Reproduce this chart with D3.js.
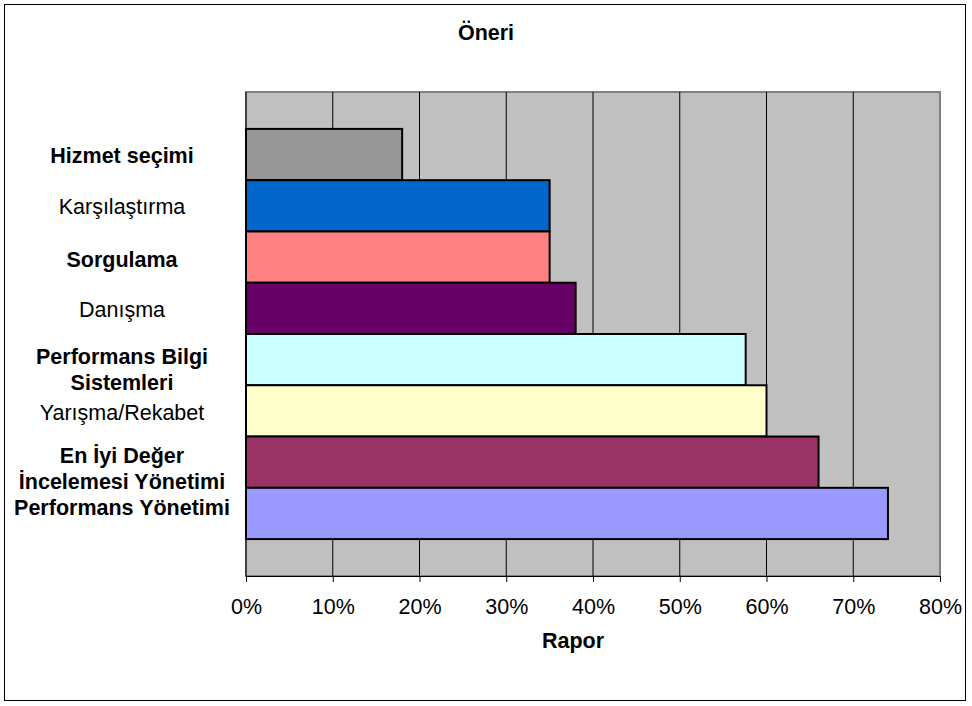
<!DOCTYPE html>
<html><head><meta charset="utf-8">
<script src="https://cdn.jsdelivr.net/npm/d3@7"></script>
<style>body{margin:0;background:#fff} text{font-family:"Liberation Sans",Arial,sans-serif;fill:#000}</style>
</head><body>
<svg id="c" width="972" height="706"></svg>
<script>
const categories = ["Hizmet seçimi","Karşılaştırma","Sorgulama","Danışma","Performans Bilgi Sistemleri","Yarışma/Rekabet","En İyi Değer İncelemesi Yönetimi","Performans Yönetimi"];
const values = [18, 35, 35, 38, 57.6, 60, 66, 74];
const colors = ["#969696","#0066CC","#FF8080","#660066","#CCFFFF","#FFFFCC","#993366","#9999FF"];
const labelLines = [["Hizmet seçimi"],["Karşılaştırma"],["Sorgulama"],["Danışma"],["Performans Bilgi","Sistemleri"],["Yarışma/Rekabet"],["En İyi Değer","İncelemesi Yönetimi"],["Performans Yönetimi"]];
const boldLabels = [true,false,true,false,true,false,true,true];
const xTicks = [0,10,20,30,40,50,60,70,80];
const title = "Öneri";
const xTitle = "Rapor";

// layout
const legendBaselines = [163, 214, 267, 317, 364, 420, 463, 515];
const lineGap = 26;
const P = {l:246, r:940, t:92, b:576};
const FS = 21.5;

const svg = d3.select("#c");
svg.append("rect").attr("x",4.5).attr("y",4.5).attr("width",961).attr("height",696)
  .attr("fill","#fff").attr("stroke","#000").attr("stroke-width",1);

const x = d3.scaleLinear().domain([0,80]).range([P.l,P.r]);
const y = d3.scaleBand().domain(categories).range([P.t,P.b]).paddingInner(0).paddingOuter(0.72);

svg.append("rect").attr("x",P.l).attr("y",P.t).attr("width",P.r-P.l).attr("height",P.b-P.t)
  .attr("fill","#C0C0C0").attr("stroke","#808080").attr("stroke-width",2);

svg.append("g").selectAll("line").data(xTicks.filter(d=>d>0 && d<80)).join("line")
  .attr("x1",d=>x(d)).attr("x2",d=>x(d)).attr("y1",P.t).attr("y2",P.b)
  .attr("stroke","#000").attr("stroke-width",1);

svg.append("g").selectAll("rect").data(categories).join("rect")
  .attr("x",x(0)).attr("y",d=>y(d)).attr("width",(d,i)=>x(values[i])-x(0)).attr("height",y.bandwidth())
  .attr("fill",(d,i)=>colors[i]).attr("stroke","#000").attr("stroke-width",2);

svg.append("line").attr("x1",P.l).attr("x2",P.l).attr("y1",P.t).attr("y2",P.b).attr("stroke","#000").attr("stroke-width",1);

const ax = svg.append("g").attr("transform",`translate(0,${P.b})`)
  .call(d3.axisBottom(x).tickValues(xTicks).tickFormat(d=>d+"%").tickSize(6).tickPadding(17).tickSizeOuter(0));
ax.select(".domain").attr("stroke","#000");
ax.selectAll(".tick line").attr("stroke","#000");
ax.selectAll("text").attr("font-size",FS).attr("font-family","Liberation Sans, Arial, sans-serif").attr("fill","#000");

svg.append("text").attr("x",486).attr("y",40).attr("text-anchor","middle")
  .attr("font-size",FS).attr("font-weight","bold").text(title);
svg.append("text").attr("x",573).attr("y",648).attr("text-anchor","middle")
  .attr("font-size",FS).attr("font-weight","bold").text(xTitle);

const lg = svg.append("g");
categories.forEach((c,i)=>{
  labelLines[i].forEach((ln,j)=>{
    lg.append("text").attr("x",122).attr("y",legendBaselines[i]+j*lineGap)
      .attr("text-anchor","middle").attr("font-size",FS)
      .attr("font-weight",boldLabels[i]?"bold":"normal").text(ln);
  });
});
</script>
</body></html>
